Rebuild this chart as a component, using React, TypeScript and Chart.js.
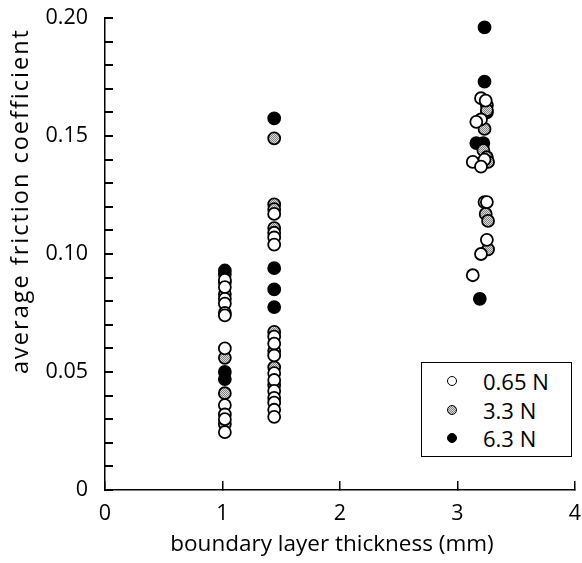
import React, { useEffect, useRef } from "react";
import { Chart, registerables } from "chart.js";

Chart.register(...registerables);

const seriesLabels = ["0.65 N", "3.3 N", "6.3 N"];

// 0.65 N (open circles)
const openX = [
  1.02, 1.02, 1.02, 1.02, 1.02, 1.02, 1.02, 1.02, 1.02, 1.02, 1.02,
  1.44, 1.44, 1.44, 1.44, 1.44, 1.44, 1.44, 1.44, 1.44, 1.44, 1.44, 1.44, 1.44, 1.44,
  3.2, 3.24, 3.2, 3.16, 3.23, 3.13, 3.2, 3.23, 3.25, 3.25, 3.2, 3.13,
];
const openY = [
  0.089, 0.086, 0.081, 0.079, 0.075, 0.074, 0.06, 0.036, 0.032, 0.03, 0.0245,
  0.117, 0.109, 0.107, 0.104, 0.065, 0.062, 0.057, 0.0495, 0.0466, 0.042, 0.039, 0.037, 0.034, 0.031,
  0.166, 0.165, 0.157, 0.156, 0.14, 0.139, 0.137, 0.122, 0.122, 0.106, 0.1, 0.091,
];

// 3.3 N (hatched grey circles)
const greyX = [
  1.02, 1.02, 1.02, 1.02, 1.02,
  1.44, 1.44, 1.44, 1.44, 1.44, 1.44, 1.44, 1.44,
  3.25, 3.25, 3.23, 3.22, 3.25, 3.26, 3.24, 3.26, 3.26,
];
const greyY = [
  0.088, 0.083, 0.056, 0.041, 0.028,
  0.149, 0.121, 0.119, 0.111, 0.067, 0.059, 0.052, 0.0445,
  0.163, 0.161, 0.153, 0.144, 0.141, 0.139, 0.117, 0.114, 0.102,
];

// 6.3 N (filled black circles)
const blackX = [
  1.02, 1.02, 1.02, 1.02,
  1.44, 1.44, 1.44, 1.44,
  3.23, 3.23, 3.25, 3.16, 3.22, 3.19,
];
const blackY = [
  0.093, 0.0915, 0.05, 0.047,
  0.1575, 0.094, 0.085, 0.0775,
  0.196, 0.173, 0.16, 0.147, 0.147, 0.081,
];

const xTickValues = [0, 1, 2, 3, 4];
const yTickValues = [0, 0.01, 0.02, 0.03, 0.04, 0.05, 0.06, 0.07, 0.08, 0.09, 0.1, 0.11, 0.12, 0.13, 0.14, 0.15, 0.16, 0.17, 0.18, 0.19, 0.2];
const yLabelValues = [0, 0.05, 0.1, 0.15, 0.2];

const xTitle = "boundary layer thickness (mm)";
const yTitle = "average friction coefficient";

const FONT = "'Open Sans', sans-serif";

function makeHatch(): CanvasPattern | string {
  const c = document.createElement("canvas");
  c.width = 2;
  c.height = 2;
  const g = c.getContext("2d");
  if (!g) return "#aaaaaa";
  g.fillStyle = "#dcdcdc";
  g.fillRect(0, 0, 2, 2);
  g.fillStyle = "#808080";
  g.fillRect(0, 0, 1, 1);
  g.fillRect(1, 1, 1, 1);
  const ctx = document.createElement("canvas").getContext("2d");
  const p = ctx ? ctx.createPattern(c, "repeat") : null;
  return p || "#aaaaaa";
}

const toPts = (xs: number[], ys: number[]) => xs.map((x, i) => ({ x, y: ys[i] }));

const axisTitles = {
  id: "axisTitles",
  afterDraw(chart: any) {
    const ctx: any = chart.ctx;
    const chartArea = chart.chartArea;
    ctx.save();
    ctx.fillStyle = "#000";
    ctx.textAlign = "center";
    ctx.textBaseline = "middle";
    ctx.font = `22.5px ${FONT}`;
    ctx.fillText(xTitle, (chartArea.left + chartArea.right) / 2 - 8, 545);
    ctx.translate(21, 201);
    ctx.rotate(-Math.PI / 2);
    ctx.font = `23.5px ${FONT}`;
    ctx.letterSpacing = "2px";
    ctx.fillText(yTitle, 0, 0);
    ctx.restore();
  },
};

export default function App() {
  const ref = useRef<HTMLCanvasElement | null>(null);

  useEffect(() => {
    if (!ref.current) return;
    const hatch = makeHatch();
    const common = { pointRadius: 6, pointHoverRadius: 6, pointBorderWidth: 1.8, borderColor: "#000", showLine: false };
    const chart = new Chart(ref.current, {
      type: "scatter",
      data: {
        datasets: [
          { label: seriesLabels[0], data: toPts(openX, openY), backgroundColor: "#fff", ...common },
          { label: seriesLabels[1], data: toPts(greyX, greyY), backgroundColor: hatch as any, ...common },
          { label: seriesLabels[2], data: toPts(blackX, blackY), backgroundColor: "#000", ...common },
        ],
      },
      options: {
        animation: false,
        responsive: false,
        devicePixelRatio: 1,
        layout: { autoPadding: false, padding: { top: 18, right: 7, left: 0, bottom: 0 } },
        plugins: { legend: { display: false }, tooltip: { enabled: false } },
        scales: {
          x: {
            type: "linear",
            min: 0,
            max: 4,
            afterFit: (s: any) => { s.height = 73; s.paddingLeft = 0; s.paddingRight = 0; },
            afterBuildTicks: (s: any) => { s.ticks = xTickValues.map((v) => ({ value: v })); },
            grid: { display: true, drawOnChartArea: false, drawTicks: true, tickLength: -9, color: "#000", lineWidth: 1.5 },
            border: { display: true, color: "#000", width: 1.5 },
            ticks: { color: "#000", font: { family: FONT, size: 21.5 }, padding: 20, maxRotation: 0, autoSkip: false,
              callback: (v: any) => String(v) },
          },
          y: {
            type: "linear",
            min: 0,
            max: 0.2,
            afterFit: (s: any) => { s.width = 105; s.paddingTop = 0; s.paddingBottom = 0; },
            afterBuildTicks: (s: any) => { s.ticks = yTickValues.map((v) => ({ value: v })); },
            ticks: {
              autoSkip: false,
              color: "#000",
              font: { family: FONT, size: 21.5 },
              padding: 25,
              callback: (v: any) => {
                const n = Number(v);
                const hit = yLabelValues.find((l) => Math.abs(l - n) < 1e-6);
                if (hit === undefined) return "";
                return hit === 0 ? "0" : hit.toFixed(2);
              },
            },
            grid: { display: true, drawOnChartArea: false, drawTicks: true, tickLength: -8, color: "#000", lineWidth: 2, tickColor: "#000", tickWidth: 2 },
            border: { display: true, color: "#000", width: 1.5 },
          },
        },
      },
      plugins: [axisTitles],
    });
    return () => chart.destroy();
  }, []);

  const legendRows = [
    { label: seriesLabels[0], bg: "#fff" },
    { label: seriesLabels[1], bg: "repeating-conic-gradient(#808080 0 25%, #dcdcdc 0 50%) 0 0 / 2px 2px" },
    { label: seriesLabels[2], bg: "#000" },
  ];

  return (
    <div style={{ position: "absolute", left: 0, top: 0, width: 582, height: 563, background: "#fff" }}>
      <canvas ref={ref} width={582} height={563} style={{ display: "block" }} />
      <div
        style={{
          position: "absolute",
          left: 421,
          top: 362,
          width: 149,
          height: 93,
          border: "1.5px solid #000",
          background: "#fff",
          fontFamily: FONT,
          fontSize: 22,
          color: "#000",
        }}
      >
        {legendRows.map((r, i) => (
          <div key={r.label} style={{ position: "absolute", left: 0, top: 4 + i * 28.5, height: 28, width: 149 }}>
            <span
              style={{
                position: "absolute",
                left: 25,
                top: 9,
                width: 8,
                height: 8,
                borderRadius: "50%",
                border: "1.5px solid #000",
                background: r.bg,
              }}
            />
            <span style={{ position: "absolute", left: 61, top: 0, lineHeight: "28px", whiteSpace: "nowrap" }}>{r.label}</span>
          </div>
        ))}
      </div>
    </div>
  );
}
